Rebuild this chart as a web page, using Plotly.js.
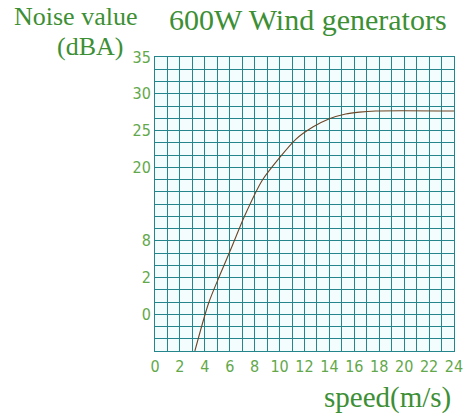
<!DOCTYPE html>
<html>
<head>
<meta charset="utf-8">
<script src="https://cdn.plot.ly/plotly-3.0.1.min.js"></script>
<style>
html, body { margin: 0; padding: 0; background: #fff; }
#chart { width: 467px; height: 418px; }
</style>
</head>
<body>
<div id="chart"></div>
<script>
// noise curve
var speed = [3.2, 4.3, 5.2, 6.1, 7.2, 8.6, 10, 11.3, 12.7, 14, 15.3, 16.4, 17.7, 24];
var noise = [-5, 1.5, 5.3, 8.9, 13.4, 18.2, 21.3, 23.8, 25.5, 26.6, 27.25, 27.5, 27.65, 27.65];

// grid every 1 m/s, labels every 2
var xGrid = [];
for (var i = 0; i <= 24; i++) xGrid.push(i);
var xText = xGrid.map(function (v) { return v % 2 === 0 ? String(v) : ''; });

// grid rows of 5/3 dBA, labels on the multiples of 5 (as printed on the sheet)
var yLabelAt = { 35: '35', 30: '30', 25: '25', 20: '20', 15: '', 10: '8', 5: '2', 0: '0' };
var yGrid = [], yText = [];
for (var k = 0; k <= 24; k++) {
  var v = -5 + k * 5 / 3;
  var r = Math.round(v * 1000) / 1000;
  yGrid.push(r);
  yText.push(yLabelAt[r] !== undefined ? yLabelAt[r] : '');
}

var green = '#3d8f35';
var grid = '#25858d';

var data = [{
  x: speed,
  y: noise,
  type: 'scatter',
  mode: 'lines',
  line: { color: '#6b4526', width: 1.1, shape: 'spline', smoothing: 0.8 },
  hoverinfo: 'skip'
}];

var tickFont = { family: 'DejaVu Sans Condensed, DejaVu Sans', size: 16, color: '#62a84a' };

var layout = {
  width: 467,
  height: 418,
  margin: { l: 155, r: 13, t: 57, b: 67 },
  paper_bgcolor: '#ffffff',
  plot_bgcolor: '#f4fdfd',
  showlegend: false,
  xaxis: {
    range: [0, 24],
    tickvals: xGrid,
    ticktext: xText,
    showgrid: true, gridcolor: grid, gridwidth: 1,
    showline: true, linecolor: grid, linewidth: 1, mirror: true,
    zeroline: false,
    ticks: '',
    ticklabelstandoff: 1,
    tickfont: tickFont
  },
  yaxis: {
    range: [-5, 35],
    tickvals: yGrid,
    ticktext: yText,
    showgrid: true, gridcolor: grid, gridwidth: 1,
    showline: true, linecolor: grid, linewidth: 1, mirror: true,
    zeroline: false,
    ticks: '',
    ticklabelstandoff: 0,
    tickfont: tickFont
  },
  annotations: [
    { text: '600W Wind generators', xref: 'paper', yref: 'paper', x: 0.5, y: 1, xshift: 3, yshift: 38,
      xanchor: 'center', yanchor: 'middle', showarrow: false,
      font: { family: 'Liberation Serif', size: 30, color: green } },
    { text: 'Noise value', xref: 'paper', yref: 'paper', x: 0, y: 1, xshift: -80, yshift: 41,
      xanchor: 'center', yanchor: 'middle', showarrow: false, borderpad: 0,
      font: { family: 'Liberation Serif', size: 26, color: green } },
    { text: '(dBA)', xref: 'paper', yref: 'paper', x: 0, y: 1, xshift: -65, yshift: 11,
      xanchor: 'center', yanchor: 'middle', showarrow: false, borderpad: 0,
      font: { family: 'Liberation Serif', size: 26, color: green } },
    { text: 'speed(m/s)', xref: 'paper', yref: 'paper', x: 1, y: 0, xshift: -1, yshift: -46,
      xanchor: 'right', yanchor: 'middle', showarrow: false,
      font: { family: 'Liberation Serif', size: 29, color: green } }
  ]
};

Plotly.newPlot('chart', data, layout, { displayModeBar: false, staticPlot: true });
</script>
</body>
</html>
